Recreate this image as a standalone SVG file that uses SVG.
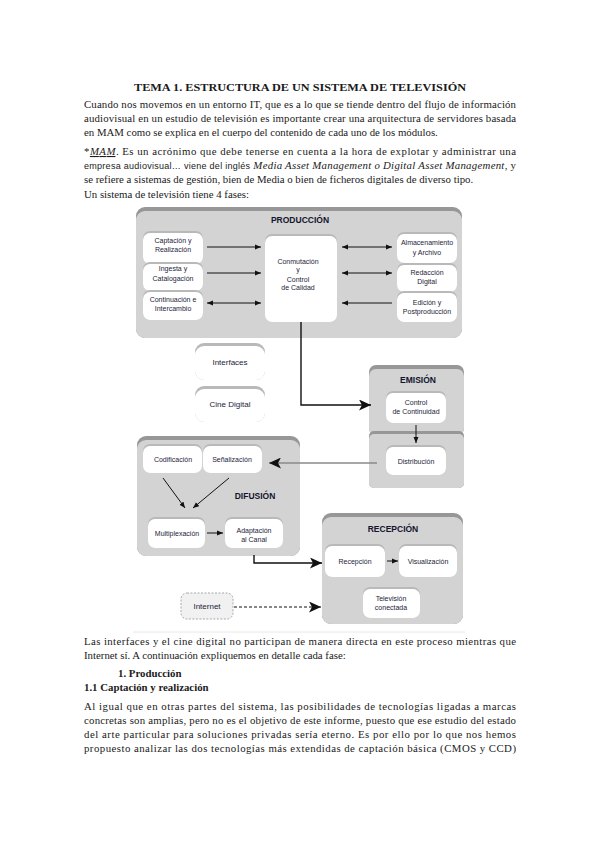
<svg xmlns="http://www.w3.org/2000/svg" width="599" height="848" viewBox="0 0 599 848">
<defs>
<style>
.body{font-family:"Liberation Serif","Times New Roman",serif;font-size:10.8px;fill:#1a1a1a}
.b{font-weight:bold}
.it{font-style:italic}
.sans{font-family:"Liberation Sans",Arial,sans-serif}
.lbl{font-family:"Liberation Sans",Arial,sans-serif;font-size:7px;fill:#1c1c3a;text-anchor:middle}
.big{font-size:8px}
.ttl{font-family:"Liberation Sans",Arial,sans-serif;font-size:8.5px;font-weight:bold;fill:#14142e;text-anchor:middle}
.gback{fill:#979797}
.gfront{fill:#d3d3d3}
.nback{fill:#b9b9b9}
.nfront{fill:#ffffff}
.c{fill:none;stroke:#111;stroke-width:1}
.ct{fill:none;stroke:#111;stroke-width:1.4}
</style>
<marker id="a" markerUnits="userSpaceOnUse" markerWidth="6" markerHeight="6" refX="6" refY="3" orient="auto-start-reverse"><path d="M0,0.5 L6,3 L0,5.5 z" fill="#111"/></marker>
<marker id="big" markerUnits="userSpaceOnUse" markerWidth="13" markerHeight="11" refX="12" refY="5.5" orient="auto"><path d="M0,0 L12,5.5 L0,11 L3,5.5 z" fill="#111"/></marker>
</defs>
<rect width="599" height="848" fill="#fff"/>

<!-- Text -->
<text class="body b" x="134" y="91" font-size="12.5" textLength="332" lengthAdjust="spacingAndGlyphs">TEMA 1. ESTRUCTURA DE UN SISTEMA DE TELEVISIÓN</text>
<text class="body" x="84" y="108" textLength="432" lengthAdjust="spacing">Cuando nos movemos en un entorno IT, que es a lo que se tiende dentro del flujo de información</text>
<text class="body" x="84" y="122" textLength="432" lengthAdjust="spacing">audiovisual en un estudio de televisión es importante crear una arquitectura de servidores basada</text>
<text class="body" x="84" y="136">en MAM como se explica en el cuerpo del contenido de cada uno de los módulos.</text>
<text class="body" x="84" y="155" textLength="432" lengthAdjust="spacing">*<tspan class="it" text-decoration="underline">MAM</tspan>. Es un acrónimo que debe tenerse en cuenta a la hora de explotar y administrar una</text>
<text class="body" x="84" y="169" textLength="432" lengthAdjust="spacing"><tspan class="sans" font-size="9">empresa audiovisual… viene del inglés</tspan> <tspan class="it">Media Asset Management o Digital Asset Management</tspan>, y</text>
<text class="body" x="84" y="183">se refiere a sistemas de gestión, bien de Media o bien de ficheros digitales de diverso tipo.</text>
<text class="body" x="84" y="198">Un sistema de televisión tiene 4 fases:</text>

<text class="body" x="84" y="645" textLength="432" lengthAdjust="spacing">Las interfaces y el cine digital no participan de manera directa en este proceso mientras que</text>
<text class="body" x="84" y="659">Internet sí. A continuación expliquemos en detalle cada fase:</text>
<text class="body b" x="118" y="677">1. Producción</text>
<text class="body b" x="84" y="691">1.1 Captación y realización</text>
<text class="body" x="84" y="710" textLength="432" lengthAdjust="spacing">Al igual que en otras partes del sistema, las posibilidades de tecnologías ligadas a marcas</text>
<text class="body" x="84" y="724" textLength="432" lengthAdjust="spacing">concretas son amplias, pero no es el objetivo de este informe, puesto que ese estudio del estado</text>
<text class="body" x="84" y="738" textLength="432" lengthAdjust="spacing">del arte particular para soluciones privadas sería eterno. Es por ello por lo que nos hemos</text>
<text class="body" x="84" y="752" textLength="432" lengthAdjust="spacing">propuesto analizar las dos tecnologías más extendidas de captación básica (CMOS y CCD)</text>

<line x1="133" y1="632" x2="465" y2="632" stroke="#e8e8e8" stroke-width="1"/>

<!-- Groups -->
<g id="produccion">
<rect class="gback" x="136" y="207" width="326" height="131" rx="9"/>
<rect class="gfront" x="136" y="211" width="326" height="127" rx="9"/>
<text class="ttl" x="300" y="223">PRODUCCIÓN</text>
</g>
<g id="emision">
<rect class="gback" x="369" y="365" width="95" height="70" rx="7"/>
<rect class="gfront" x="369" y="369" width="95" height="66" rx="7"/>
<rect class="gback" x="369" y="431" width="95" height="57" rx="5"/>
<rect class="gfront" x="369" y="434" width="95" height="54" rx="5"/>
<text class="ttl" x="418" y="383">EMISIÓN</text>
</g>
<g id="difusion">
<rect class="gback" x="137" y="436" width="163" height="120" rx="9"/>
<rect class="gfront" x="137" y="440" width="163" height="116" rx="9"/>
<text class="ttl" x="255" y="499">DIFUSIÓN</text>
</g>
<g id="recepcion">
<rect class="gback" x="322" y="513" width="141" height="111" rx="9"/>
<rect class="gfront" x="322" y="517" width="141" height="107" rx="9"/>
<text class="ttl" x="393" y="532">RECEPCIÓN</text>
</g>

<!-- Nodes -->
<g id="captacion"><rect class="nback" x="143" y="231" width="60" height="33" rx="7"/><rect class="nfront" x="143" y="233" width="60" height="31" rx="7"/>
<text class="lbl" x="173" y="242.5">Captación y</text><text class="lbl" x="173" y="251.5">Realización</text></g>
<g id="ingesta"><rect class="nback" x="143" y="262" width="60" height="29" rx="7"/><rect class="nfront" x="143" y="264" width="60" height="27" rx="7"/>
<text class="lbl" x="173" y="270.5">Ingesta y</text><text class="lbl" x="173" y="281">Catalogación</text></g>
<g id="continuacion"><rect class="nback" x="143" y="290" width="60" height="30" rx="7"/><rect class="nfront" x="143" y="292" width="60" height="28" rx="7"/>
<text class="lbl" x="173" y="302">Continuación e</text><text class="lbl" x="173" y="311">Intercambio</text></g>
<g id="conmutacion"><rect class="nback" x="265" y="234" width="72" height="88" rx="7"/><rect class="nfront" x="265" y="236" width="72" height="86" rx="7"/>
<text class="lbl" x="298" y="263.5">Conmutación</text><text class="lbl" x="298" y="272">y</text><text class="lbl" x="298" y="281.5">Control</text><text class="lbl" x="298" y="290">de Calidad</text></g>
<g id="almacenamiento"><rect class="nback" x="397" y="232" width="60" height="31" rx="7"/><rect class="nfront" x="397" y="234" width="60" height="29" rx="7"/>
<text class="lbl" x="427" y="244.5">Almacenamiento</text><text class="lbl" x="427" y="254.5">y Archivo</text></g>
<g id="redaccion"><rect class="nback" x="397" y="263" width="60" height="29" rx="7"/><rect class="nfront" x="397" y="265" width="60" height="27" rx="7"/>
<text class="lbl" x="427" y="275">Redacción</text><text class="lbl" x="427" y="284">Digital</text></g>
<g id="edicion"><rect class="nback" x="397" y="291" width="60" height="31" rx="7"/><rect class="nfront" x="397" y="293" width="60" height="29" rx="7"/>
<text class="lbl" x="427" y="304.5">Edición y</text><text class="lbl" x="427" y="314">Postproducción</text></g>

<g id="interfaces"><rect class="nback" x="195" y="343" width="70" height="37" rx="9"/><rect class="nfront" x="195" y="346" width="70" height="34" rx="9"/>
<text class="lbl big" x="230" y="365">Interfaces</text></g>
<g id="cine-digital"><rect class="nback" x="195" y="386" width="70" height="36" rx="9"/><rect class="nfront" x="195" y="389" width="70" height="33" rx="9"/>
<text class="lbl big" x="230" y="407">Cine Digital</text></g>

<g id="control-continuidad"><rect class="nback" x="386" y="391" width="60" height="32" rx="7"/><rect class="nfront" x="386" y="393" width="60" height="30" rx="7"/>
<text class="lbl" x="416" y="405">Control</text><text class="lbl" x="416" y="414">de Continuidad</text></g>
<g id="distribucion"><rect class="nback" x="386" y="445" width="60" height="30" rx="7"/><rect class="nfront" x="386" y="447" width="60" height="28" rx="7"/>
<text class="lbl" x="416" y="464">Distribución</text></g>

<g id="codificacion"><rect class="nback" x="143" y="444" width="59" height="29" rx="7"/><rect class="nfront" x="143" y="446" width="59" height="27" rx="7"/>
<text class="lbl" x="173" y="461.5">Codificación</text></g>
<g id="senalizacion"><rect class="nback" x="203" y="444" width="59" height="29" rx="7"/><rect class="nfront" x="203" y="446" width="59" height="27" rx="7"/>
<text class="lbl" x="232" y="461.5">Señalización</text></g>
<g id="multiplexacion"><rect class="nback" x="148" y="517" width="57" height="31" rx="7"/><rect class="nfront" x="148" y="519" width="57" height="29" rx="7"/>
<text class="lbl" x="177" y="535.5">Multiplexación</text></g>
<g id="adaptacion"><rect class="nback" x="225" y="517" width="58" height="31" rx="7"/><rect class="nfront" x="225" y="519" width="58" height="29" rx="7"/>
<text class="lbl" x="254" y="532.5">Adaptación</text><text class="lbl" x="254" y="541.5">al Canal</text></g>

<g id="recepcion-node"><rect class="nback" x="325" y="544" width="60" height="33" rx="7"/><rect class="nfront" x="325" y="546" width="60" height="31" rx="7"/>
<text class="lbl" x="355" y="563.5">Recepción</text></g>
<g id="visualizacion"><rect class="nback" x="399" y="544" width="58" height="33" rx="7"/><rect class="nfront" x="399" y="546" width="58" height="31" rx="7"/>
<text class="lbl" x="428" y="563.5">Visualización</text></g>
<g id="television-conectada"><rect class="nback" x="363" y="587" width="57" height="31" rx="7"/><rect class="nfront" x="363" y="589" width="57" height="29" rx="7"/>
<text class="lbl" x="391" y="601">Televisión</text><text class="lbl" x="391" y="610">conectada</text></g>

<g id="internet"><rect x="181" y="593" width="52" height="26" rx="6" fill="#f1f1f1" stroke="#a8a8a8" stroke-width="1" stroke-dasharray="2,1.5"/>
<text class="lbl big" x="207" y="609">Internet</text></g>

<!-- Connectors -->
<g id="connectors">
<path class="c" d="M207,247 H261" marker-end="url(#a)"/>
<path class="c" d="M207,273 H261" marker-end="url(#a)"/>
<path class="c" d="M207,303 H261" marker-start="url(#a)" marker-end="url(#a)"/>
<path class="c" d="M342,247 H392" marker-start="url(#a)" marker-end="url(#a)"/>
<path class="c" d="M342,273 H392" marker-start="url(#a)" marker-end="url(#a)"/>
<path class="c" d="M392,303 H342" marker-end="url(#a)"/>
<path class="ct" d="M301,322 V405 H371" marker-end="url(#big)"/>
<path class="c" d="M416,425 V443" marker-end="url(#a)"/>
<path d="M377,463 H269" fill="none" stroke="#8a8a8a" stroke-width="1.4" marker-end="url(#big)"/>
<path class="c" d="M163,478 L185,508" marker-end="url(#a)"/>
<path class="c" d="M229,478 L193,508" marker-end="url(#a)"/>
<path class="c" d="M207,533 H223" marker-end="url(#a)"/>
<path class="ct" d="M254,555 V563 H322" marker-end="url(#big)"/>
<path class="c" d="M387,561 H398" marker-end="url(#a)"/>
<path class="c" d="M234,607 H321" stroke-dasharray="3,2" marker-end="url(#big)"/>
</g>
</svg>
